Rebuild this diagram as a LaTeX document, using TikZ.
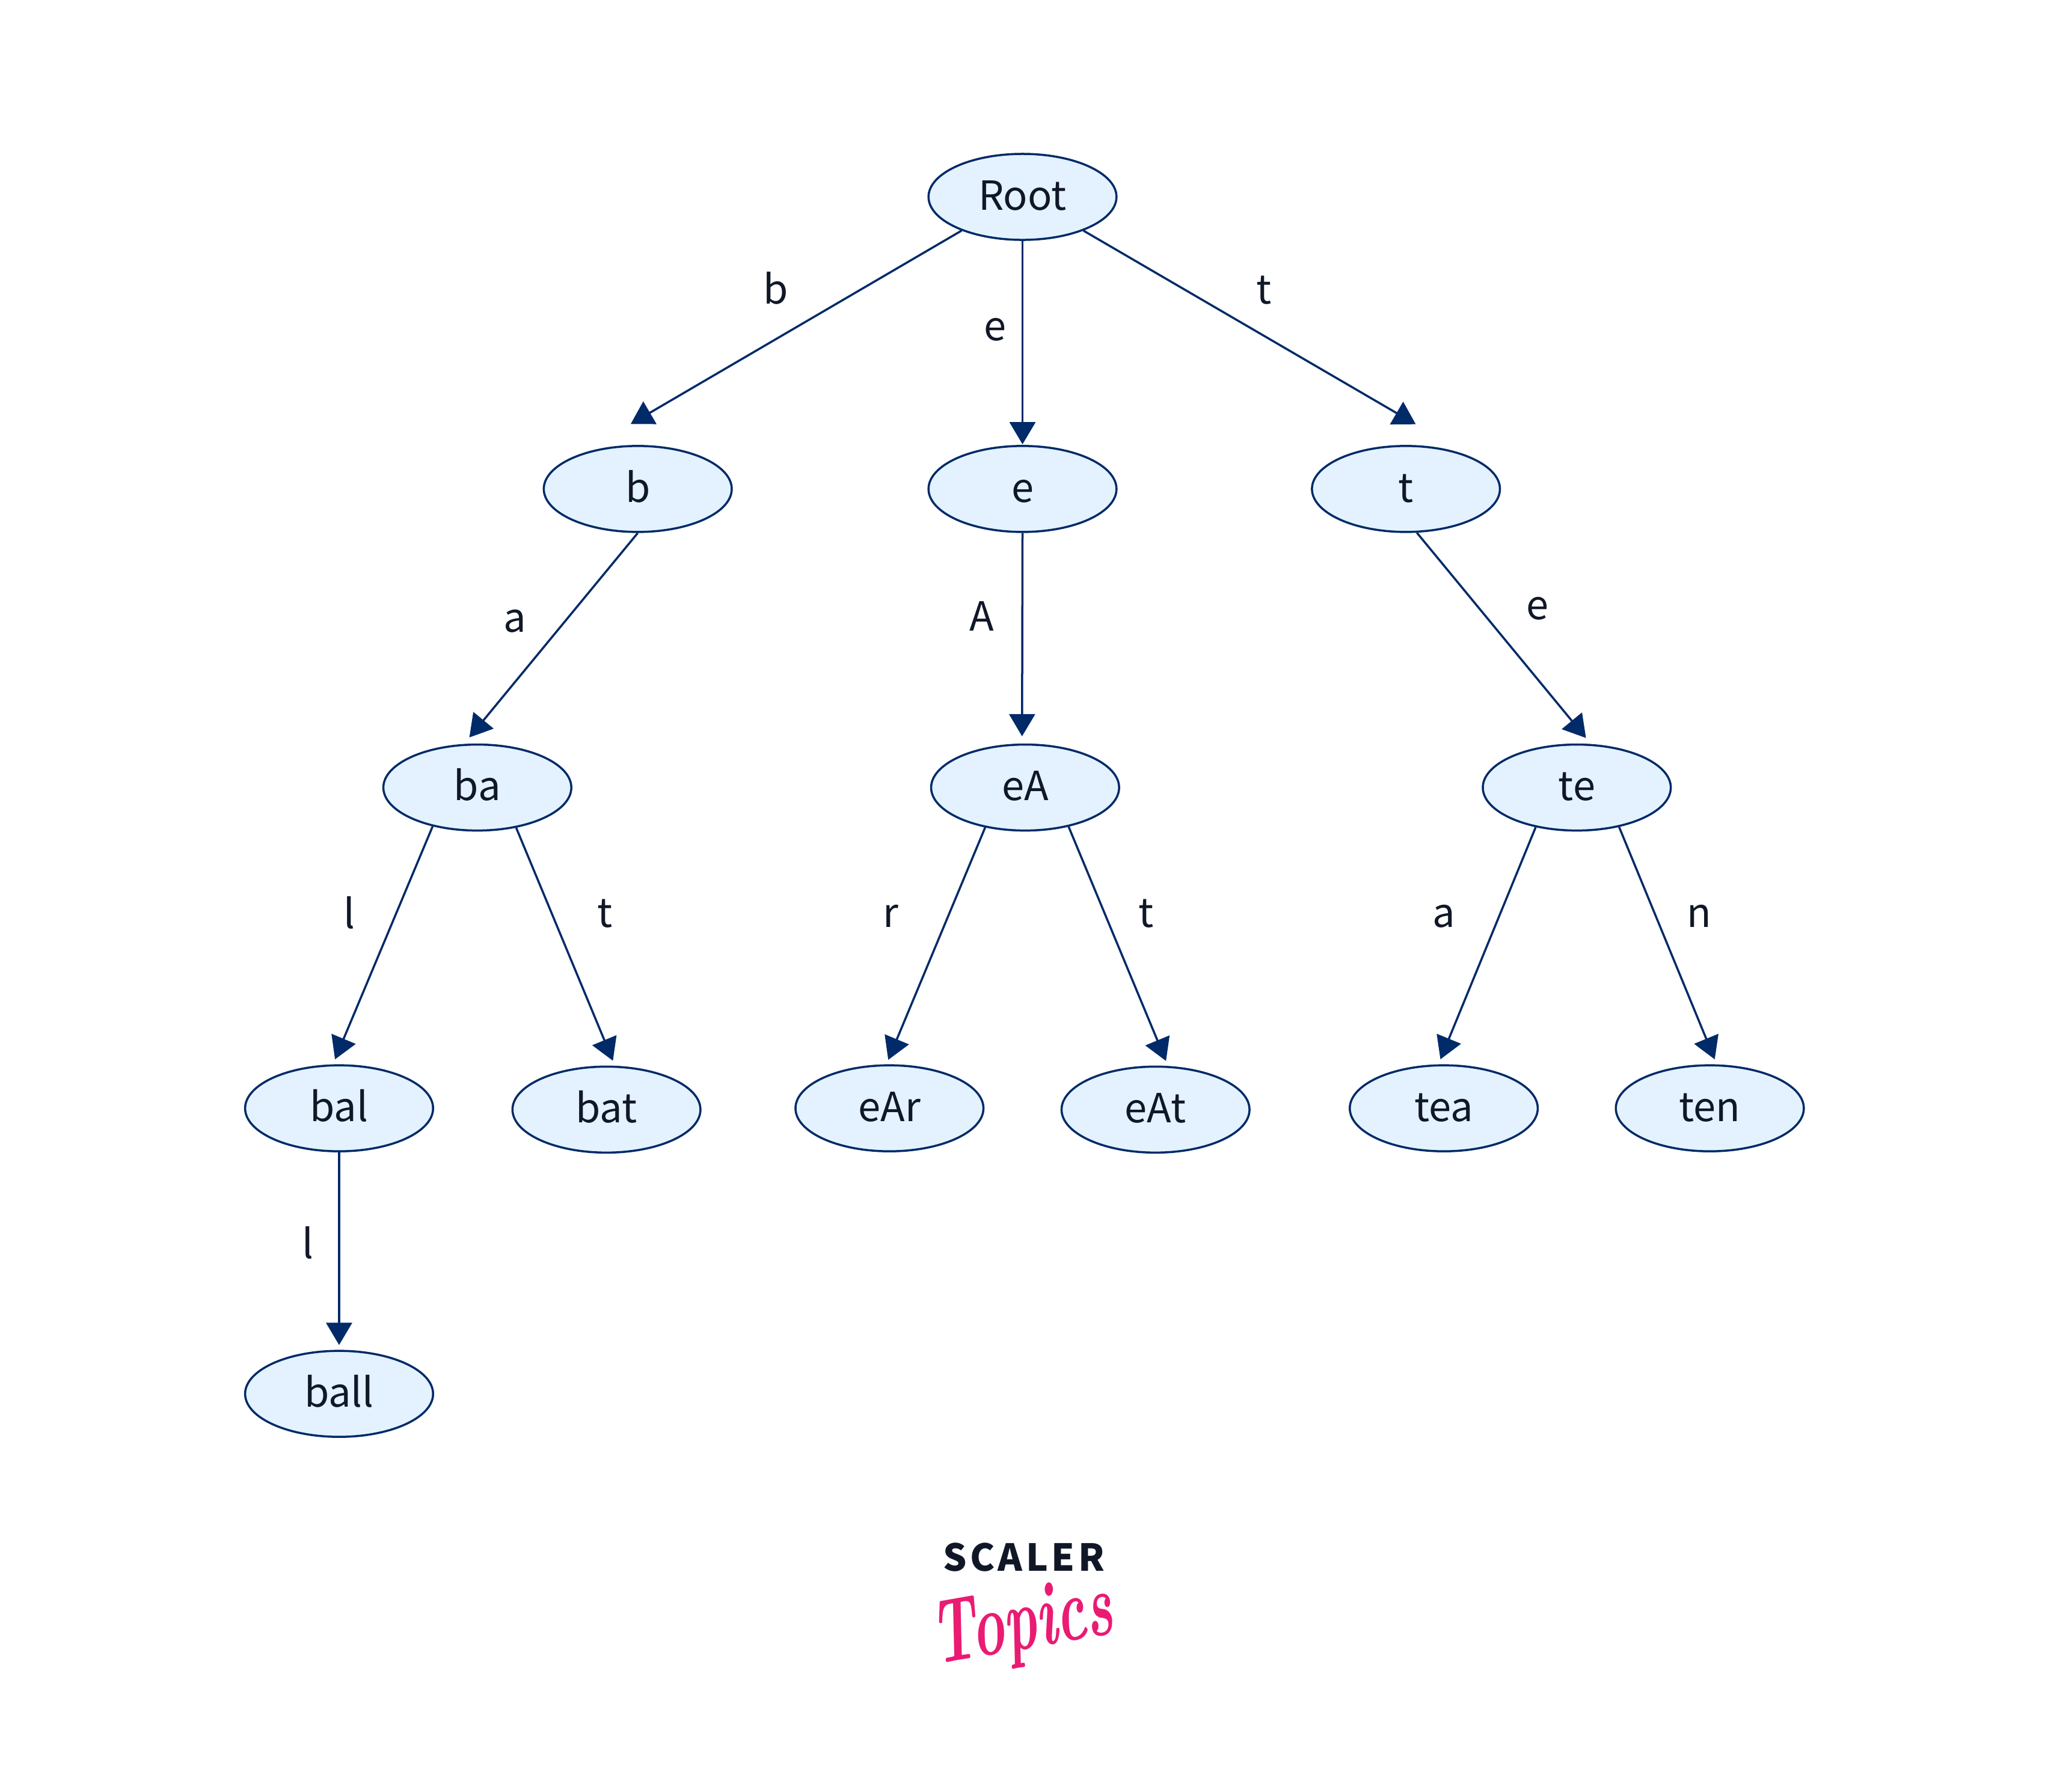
\documentclass[tikz,border=0pt]{standalone}
\usepackage{fontspec}
\setmainfont{Noto Sans CJK SC}
\newfontfamily\scalerfont[LetterSpace=9]{Noto Sans CJK SC}
\newfontfamily\topicsfont{Latin Modern Roman}
\usetikzlibrary{shapes,arrows.meta}
\definecolor{lineBlue}{HTML}{012A68}
\definecolor{fillBlue}{HTML}{E3F2FE}
\definecolor{inkDark}{HTML}{101828}
\definecolor{logoPink}{HTML}{EA1B73}
\tikzset{
	trieNode/.style={draw=lineBlue, fill=fillBlue, ellipse, line width=0.035cm, inner sep=0pt, minimum width=3.125cm, minimum height=1.43cm, text=inkDark, font=\fontsize{19}{23}\selectfont, text height=0.434cm, text depth=0pt},
	edgeLabel/.style={anchor=base, inner sep=0pt, text=inkDark, font=\fontsize{19}{23}\selectfont},
	trieEdge/.style={draw=lineBlue, line width=0.035cm, -{Triangle[length=0.37cm,width=0.43cm]}},
}

\begin{document}
\begin{tikzpicture}[x=0.02169cm, y=-0.02169cm]
		\useasboundingbox (0,0) rectangle (1568,1374);
		\node[trieNode] (Root) at (784,151) {Root};
		\node[trieNode] (b) at (489,375) {b};
		\node[trieNode] (e) at (784,375) {e};
		\node[trieNode] (t) at (1078,375) {t};
		\node[trieNode] (ba) at (366,604) {ba};
		\node[trieNode] (eA) at (786,604) {eA};
		\node[trieNode] (te) at (1209,604) {te};
		\node[trieNode] (bal) at (260,850) {bal};
		\node[trieNode] (bat) at (465,851) {bat};
		\node[trieNode] (eAr) at (682,850) {eAr};
		\node[trieNode] (eAt) at (886,851) {eAt};
		\node[trieNode] (tea) at (1107,850) {tea};
		\node[trieNode] (ten) at (1311,850) {ten};
		\node[trieNode] (ball) at (260,1069) {ball};
		\draw[trieEdge, shorten >=1.01cm] (Root.209) to (b.150);
		\draw[trieEdge, shorten >=0.01cm] (Root.south) to (e.north);
		\draw[trieEdge, shorten >=1.13cm] (Root.-29) to (t.24);
		\draw[trieEdge, shorten >=0.14cm] (b.south) to (ba.107);
		\draw[trieEdge, shorten >=0.12cm] (e.south) to (eA.94);
		\draw[trieEdge, shorten >=0.13cm] (t.-76) to (te.72);
		\draw[trieEdge, shorten >=0.09cm] (ba.221) to (bal.98);
		\draw[trieEdge, shorten >=0.09cm] (ba.-46) to (bat.79);
		\draw[trieEdge, shorten >=0.08cm] (eA.225) to (eAr.94);
		\draw[trieEdge, shorten >=0.09cm] (eA.-42) to (eAt.74);
		\draw[trieEdge, shorten >=0.09cm] (te.224) to (tea.97);
		\draw[trieEdge, shorten >=0.09cm] (te.-43) to (ten.81);
		\draw[trieEdge, shorten >=0.08cm] (bal.south) to (ball.north);
		\node[edgeLabel] (labelB) at (595,233) {b};
		\node[edgeLabel] (labelE) at (763,261) {e};
		\node[edgeLabel] (labelT) at (969,233) {t};
		\node[edgeLabel] (labelBa) at (395,485) {a};
		\node[edgeLabel] (labelEA) at (753,484) {A};
		\node[edgeLabel] (labelTe) at (1179,475) {e};
		\node[edgeLabel] (labelBal) at (268,712) {l};
		\node[edgeLabel] (labelBat) at (464,711) {t};
		\node[edgeLabel] (labelEAr) at (683,711) {r};
		\node[edgeLabel] (labelEAt) at (879,711) {t};
		\node[edgeLabel] (labelTea) at (1107,711) {a};
		\node[edgeLabel] (labelTen) at (1303,711) {n};
		\node[edgeLabel] (labelBall) at (236,965) {l};
		\node[anchor=base, inner sep=0pt, text=inkDark, font=\scalerfont\bfseries\fontsize{17.6}{20}\selectfont] (scaler) at (785,1205) {SCALER};
		\node[inner sep=0pt, text=logoPink, rotate=10, xscale=.8, yscale=1.3, font=\topicsfont\bfseries\itshape\fontsize{33}{36}\selectfont] (topics) at (784,1248) {Topics};
\end{tikzpicture}
\end{document}
